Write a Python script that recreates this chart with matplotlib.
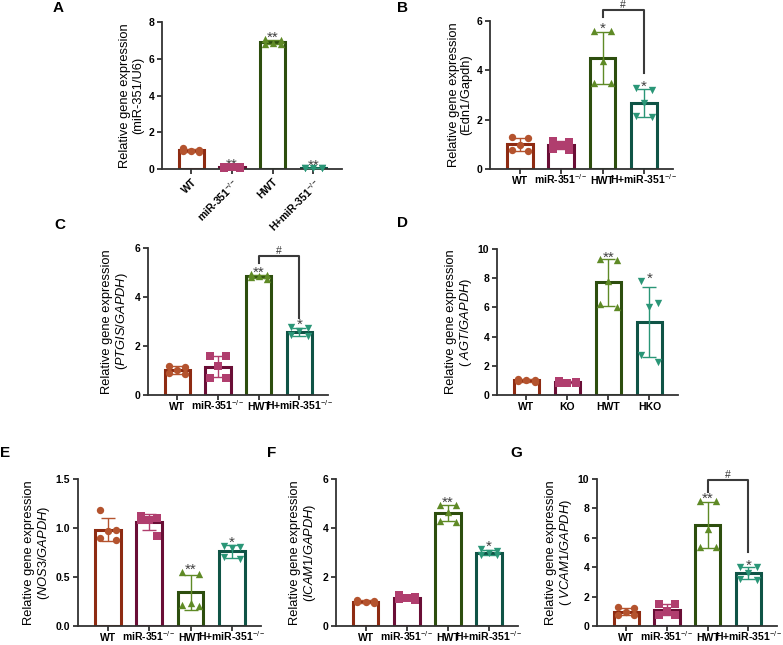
import matplotlib
matplotlib.use("Agg")
import matplotlib.pyplot as plt
import numpy as np

plt.rcParams["font.family"] = ["Liberation Sans", "DejaVu Sans"]
plt.rcParams["mathtext.fontset"] = "custom"
plt.rcParams["mathtext.rm"] = "Liberation Sans"
plt.rcParams["mathtext.it"] = "Liberation Sans:italic"
plt.rcParams["mathtext.bf"] = "Liberation Sans:bold"

KO = "miR-351$^{-/-}$"
HKO = "H+miR-351$^{-/-}$"
groups_main = ["WT", KO, "HWT", HKO]
groups_d = ["WT", "KO", "HWT", "HKO"]

# per-animal values (5 per group)
a_vals = [[1.12, 1.06, 1.0, 0.96, 0.9], [0.12, 0.1, 0.09, 0.08, 0.08],
          [7.05, 7.02, 6.85, 6.82, 6.8], [0.06, 0.05, 0.05, 0.04, 0.04]]
b_vals = [[1.28, 1.25, 0.97, 0.78, 0.72], [1.15, 1.1, 0.95, 0.82, 0.78],
          [5.6, 5.6, 4.38, 3.5, 3.5], [3.27, 3.2, 2.66, 2.16, 2.09]]
c_vals = [[1.2, 1.15, 1.02, 0.9, 0.85], [1.59, 1.59, 1.18, 0.71, 0.71],
          [4.92, 4.9, 4.85, 4.8, 4.75], [2.78, 2.72, 2.6, 2.45, 2.4]]
d_vals = [[1.1, 1.05, 1.0, 0.95, 0.9], [0.95, 0.9, 0.85, 0.82, 0.8],
          [9.3, 9.25, 7.8, 6.2, 6.0], [7.8, 6.28, 6.0, 2.74, 2.28]]
e_vals = [[1.18, 0.98, 0.97, 0.9, 0.88], [1.125, 1.1, 1.08, 1.08, 0.914],
          [0.55, 0.53, 0.23, 0.21, 0.2], [0.82, 0.81, 0.8, 0.7, 0.68]]
f_vals = [[1.08, 1.04, 1.0, 0.96, 0.92], [1.25, 1.2, 1.15, 1.1, 1.05],
          [4.95, 4.93, 4.65, 4.3, 4.25], [3.15, 3.08, 2.98, 2.9, 2.88]]
g_vals = [[1.3, 1.2, 0.95, 0.75, 0.72], [1.5, 1.48, 1.05, 0.75, 0.72],
          [8.5, 8.5, 6.57, 5.4, 5.4], [4.0, 3.98, 3.6, 3.2, 3.15]]

a_stars = ["", "**", "**", "**"]
b_stars = ["", "", "*", "*"]
c_stars = ["", "", "**", "*"]
d_stars = ["", "", "**", "*"]
e_stars = ["", "", "**", "*"]
f_stars = ["", "", "**", "*"]
g_stars = ["", "", "**", "*"]

edge_cols = ["#8E2B12", "#6A0E36", "#2D4E0E", "#0F5446"]
pt_cols = ["#B4532E", "#B03E6E", "#5F8A26", "#2A9677"]
markers = ["o", "s", "^", "v"]
offsets = [-0.2, 0.2, 0.0, -0.2, 0.2]

W, H = 783, 645
fig = plt.figure(figsize=(W / 100, H / 100), dpi=100)


def px_axes(l, r, t, b):
    return fig.add_axes([l / W, 1 - b / H, (r - l) / W, (b - t) / H])


def panel(ax, vals, labels, stars, yticks, ylabel, letter, rot=False, bracket=None):
    x = np.arange(4)
    means = [np.mean(v) for v in vals]
    sds = [np.std(v, ddof=1) for v in vals]
    ax.bar(x, means, width=0.62, facecolor="white", edgecolor=edge_cols, linewidth=2.2, zorder=2)
    for i, v in enumerate(vals):
        vs = sorted(v, reverse=True)
        ax.errorbar(i, means[i], yerr=sds[i], color=pt_cols[i], capsize=5, elinewidth=1,
                    capthick=1, zorder=3)
        ax.scatter(i + np.array(offsets), vs, marker=markers[i], s=28, color=pt_cols[i],
                   zorder=4, clip_on=False, linewidths=0)
        top = max(max(v), means[i] + sds[i])
        if stars[i]:
            ax.annotate(stars[i], (i, top), xytext=(0, -1.5), textcoords="offset points",
                        ha="center", va="baseline", fontsize=11, color="#404040",
                        annotation_clip=False)
    if bracket:
        y0, y1, y2 = bracket
        ax.plot([2, 2, 3, 3], [y1, y0, y0, y2], color="#3a3a3a", lw=1.5, clip_on=False)
        ax.annotate("#", (2.5, y0), xytext=(0, 4), textcoords="offset points",
                    ha="center", va="center", fontsize=7.5, color="#333333",
                    annotation_clip=False)
    ax.set_xlim(-0.72, 3.7)
    ax.set_ylim(yticks[0], yticks[-1])
    ax.set_yticks(yticks)
    ax.set_xticks(x)
    if rot:
        ax.set_xticklabels(labels, rotation=45, ha="right", rotation_mode="anchor")
        ax.tick_params(axis="x", pad=2)
    else:
        ax.set_xticklabels(labels)
        for lab in ax.get_xticklabels():
            lab.set_va("baseline")
        ax.tick_params(axis="x", pad=7)
    for lab in ax.get_xticklabels() + ax.get_yticklabels():
        lab.set_fontweight("bold")
        lab.set_fontsize(7.5)
    ax.set_ylabel(ylabel, fontsize=9.3, labelpad=3, linespacing=1.1)
    ax.spines["top"].set_visible(False)
    ax.spines["right"].set_visible(False)
    for s in ["left", "bottom"]:
        ax.spines[s].set_linewidth(1.3)
        ax.spines[s].set_color("#333333")
    ax.tick_params(width=1.3, length=3.5, color="#333333")
    ax.tick_params(axis="y", pad=2)
    fig.text(letter[1] / W, 1 - letter[2] / H, letter[0], fontsize=11, fontweight="bold",
             ha="left", va="center")


ax = px_axes(162, 342, 22, 169)
panel(ax, a_vals, groups_main, a_stars, [0, 2, 4, 6, 8],
      "Relative gene expression\n(miR-351/U6)", ("A", 53, 8), rot=True)

ax = px_axes(490, 673, 21, 169)
panel(ax, b_vals, groups_main, b_stars, [0, 2, 4, 6],
      "Relative gene expression\n(Edn1/Gapdh)", ("B", 397, 8), bracket=(6.44, 6.15, 3.9))

ax = px_axes(148, 328, 248, 395)
panel(ax, c_vals, groups_main, c_stars, [0, 2, 4, 6],
      "Relative gene expression\n($\\mathit{PTGIS/GAPDH}$)", ("C", 54, 225),
      bracket=(5.67, 5.4, 3.15))

ax = px_axes(497, 678, 249, 395)
panel(ax, d_vals, groups_d, d_stars, [0, 2, 4, 6, 8, 10],
      "Relative gene expression\n( $\\mathit{AGT/GAPDH}$)", ("D", 397, 223))

ax = px_axes(78, 261, 479, 626)
panel(ax, e_vals, groups_main, e_stars, [0.0, 0.5, 1.0, 1.5],
      "Relative gene expression\n($\\mathit{NOS3/GAPDH}$)", ("E", 0, 453))
ax.set_yticklabels(["0.0", "0.5", "1.0", "1.5"], fontweight="bold", fontsize=7.5)

ax = px_axes(336, 518, 479, 626)
panel(ax, f_vals, groups_main, f_stars, [0, 2, 4, 6],
      "Relative gene expression\n($\\mathit{ICAM1/GAPDH}$)", ("F", 267, 453))

ax = px_axes(597, 777, 479, 626)
panel(ax, g_vals, groups_main, g_stars, [0, 2, 4, 6, 8, 10],
      "Relative gene expression\n( $\\mathit{VCAM1/GAPDH}$)", ("G", 510, 453),
      bracket=(9.9, 9.1, 5.05))

fig.savefig("out.png", dpi=100)
